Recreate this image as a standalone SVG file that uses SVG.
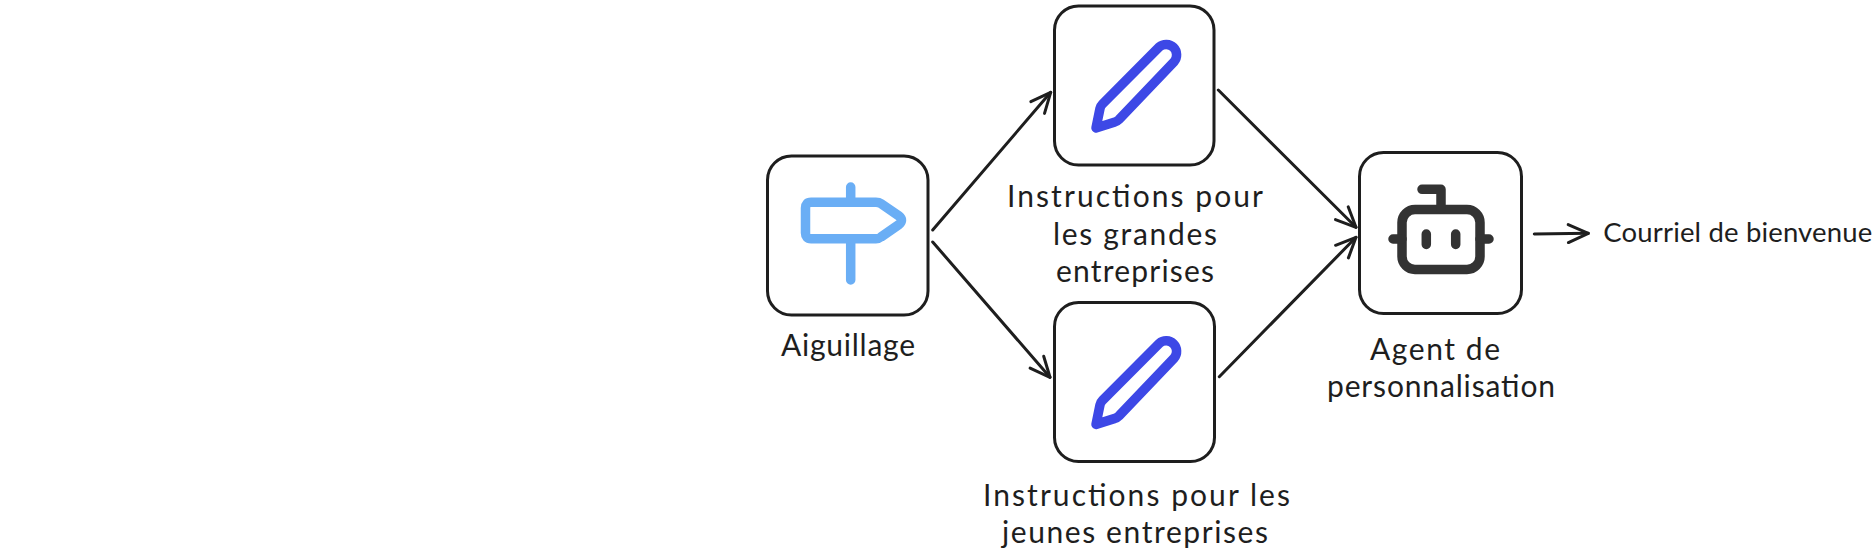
<svg xmlns="http://www.w3.org/2000/svg" width="1873" height="560" viewBox="0 0 1873 560">
<style>
.box{fill:#fff;stroke:#1e1e1e;stroke-width:3}
.ic{fill:none;stroke-width:9.5;stroke-linecap:round;stroke-linejoin:round}
.sign{stroke:#6aaef5}
.pen{stroke:#3d48e6}
.bot{stroke:#333}
.conn{fill:none;stroke:#1e1e1e;stroke-width:3;stroke-linecap:round;marker-end:url(#ah)}
text{font-family:"Lato","Open Sans",sans-serif;font-size:30px;fill:#1e1e1e}
#node-courriel text{font-size:27.5px}
</style>
<defs>
<marker id="ah" markerUnits="userSpaceOnUse" markerWidth="30" markerHeight="30" refX="25" refY="15" orient="auto">
<path d="M5,6 L25,15 L5,24" fill="none" stroke="#1e1e1e" stroke-width="3" stroke-linecap="round" stroke-linejoin="round"/>
</marker>
<path id="pencil" d="M1159.3,46.9 L1102.5,104 Q1100.5,106 1100,108.5 L1096,128 L1115,122 Q1117,121.5 1119,119.5 L1174.1,61.7 A10.5,10.5 0 0 0 1159.3,46.9 Z"/>
</defs>
<rect width="1873" height="560" fill="#fff"/>
<g id="connectors">
<path class="conn" d="M932.7,230 L1050.7,92.3"/>
<path class="conn" d="M932.7,242 L1050,377.3"/>
<path class="conn" d="M1218.3,90 L1356,227.3"/>
<path class="conn" d="M1219.3,376.7 L1356,237.3"/>
<path class="conn" d="M1534.3,234 L1588.3,233.3"/>
</g>
<g id="node-aiguillage">
<rect class="box" x="767.5" y="156" width="160.5" height="159" rx="24"/>
<path class="ic sign" d="M850.7,187 V202.3 M850.7,238.7 V280 M811,202.3 H876 Q879,202.3 881,203.7 L899,216 Q904,220 899,224.5 L881,237 Q879,238.7 876,238.7 H811 Q805.5,238.7 805.5,233 V208 Q805.5,202.3 811,202.3 Z"/>
<text x="781" y="356" textLength="134" lengthAdjust="spacing">Aiguillage</text>
</g>
<g id="node-grandes">
<rect class="box" x="1054.5" y="6" width="159.5" height="159" rx="24"/>
<use href="#pencil" class="ic pen"/>
<text x="1007" y="207" textLength="256" lengthAdjust="spacing">Instructions pour</text>
<text x="1053" y="245" textLength="164" lengthAdjust="spacing">les grandes</text>
<text x="1056" y="282" textLength="158" lengthAdjust="spacing">entreprises</text>
</g>
<g id="node-jeunes">
<rect class="box" x="1054.5" y="302.5" width="160" height="159" rx="24"/>
<use href="#pencil" class="ic pen" y="296.4"/>
<text x="983" y="506" textLength="307" lengthAdjust="spacing">Instructions pour les</text>
<text x="1002" y="543" textLength="266" lengthAdjust="spacing">jeunes entreprises</text>
</g>
<g id="node-agent">
<rect class="box" x="1359.5" y="152.5" width="162" height="161" rx="24"/>
<g class="ic bot">
<rect x="1402" y="209.5" width="78" height="60" rx="13"/>
<path d="M1393,239 H1402 M1480,239 H1489 M1426.3,234 V244.5 M1455.7,234 V244.5 M1441,209 V189.3 H1422"/>
</g>
<text x="1370" y="359.5" textLength="130" lengthAdjust="spacing">Agent de</text>
<text x="1327" y="396.7" textLength="228" lengthAdjust="spacing">personnalisation</text>
</g>
<g id="node-courriel">
<text x="1603.3" y="241.7" textLength="269" lengthAdjust="spacing">Courriel de bienvenue</text>
</g>
</svg>
